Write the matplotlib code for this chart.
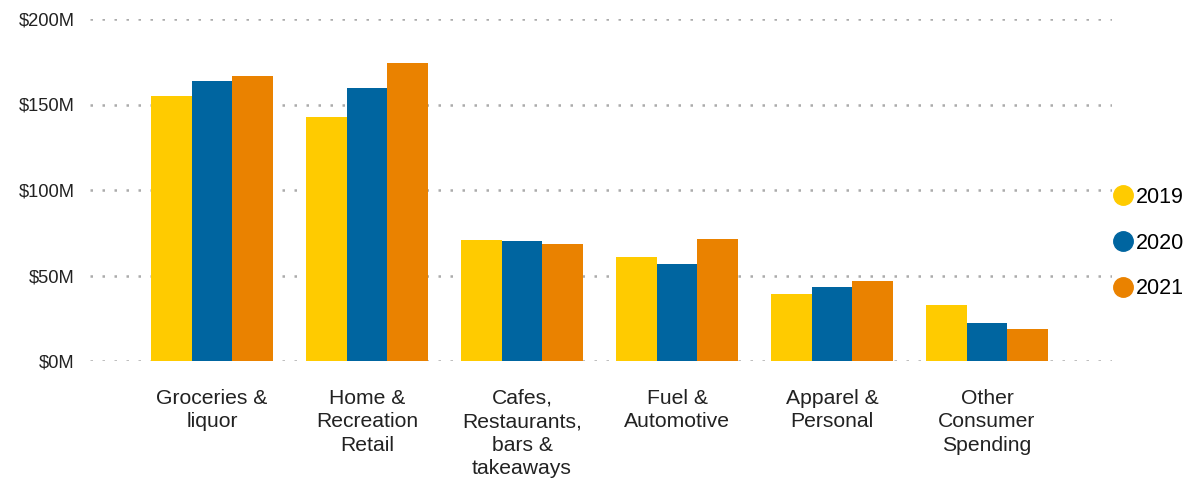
import numpy as np
import matplotlib.pyplot as plt
from matplotlib.lines import Line2D

plt.rcParams['font.family'] = ['Liberation Sans', 'DejaVu Sans']

# data ($M)
categories = ['Groceries &\nliquor', 'Home &\nRecreation\nRetail',
              'Cafes,\nRestaurants,\nbars &\ntakeaways', 'Fuel &\nAutomotive',
              'Apparel &\nPersonal', 'Other\nConsumer\nSpending']
years = ['2019', '2020', '2021']
v2019 = [155, 142.5, 71, 61, 39, 33]
v2020 = [163.5, 159.5, 70, 57, 43, 22.5]
v2021 = [166.5, 174.5, 68.5, 71.5, 46.5, 19]
colors = ['#FFCB00', '#0065A0', '#EA8200']

fig = plt.figure(figsize=(11.86, 4.78), dpi=100)
ax = fig.add_axes([90/1186, 117/478, 1022/1186, 342/478])

x = np.arange(len(categories))
w = 0.262
for i, (vals, c) in enumerate(zip([v2019, v2020, v2021], colors)):
    ax.bar(x + (i - 1) * w, vals, width=w, color=c, zorder=2)

ax.set_xlim(-0.787, 5.806)
ax.set_ylim(0, 200)
ax.set_yticks([0, 50, 100, 150, 200])
ax.set_yticklabels(['$0M', '$50M', '$100M', '$150M', '$200M'])
ax.set_xticks(x)
ax.set_xticklabels(categories, fontsize=15.2, color='#222222', linespacing=1.3, va='top')
ax.tick_params(axis='y', length=0, pad=11, labelsize=13.2, labelcolor='#222222')
ax.tick_params(axis='x', length=0, pad=20)
for s in ax.spines.values():
    s.set_visible(False)
ax.yaxis.grid(True, color='#ababab', linestyle=(0, (1, 3.8)), linewidth=1.8, zorder=0)
ax.set_axisbelow(True)

handles = [Line2D([], [], marker='o', linestyle='', markersize=14,
                  markerfacecolor=c, markeredgecolor=c) for c in colors]
fig.legend(handles, years, loc='center left', bbox_to_anchor=(1110/1186, 1 - 243/478),
           frameon=False, fontsize=15.5, handletextpad=0.0, labelspacing=1.14,
           borderaxespad=0, borderpad=0, handlelength=1.2)

fig.savefig('out.png', dpi=100)
